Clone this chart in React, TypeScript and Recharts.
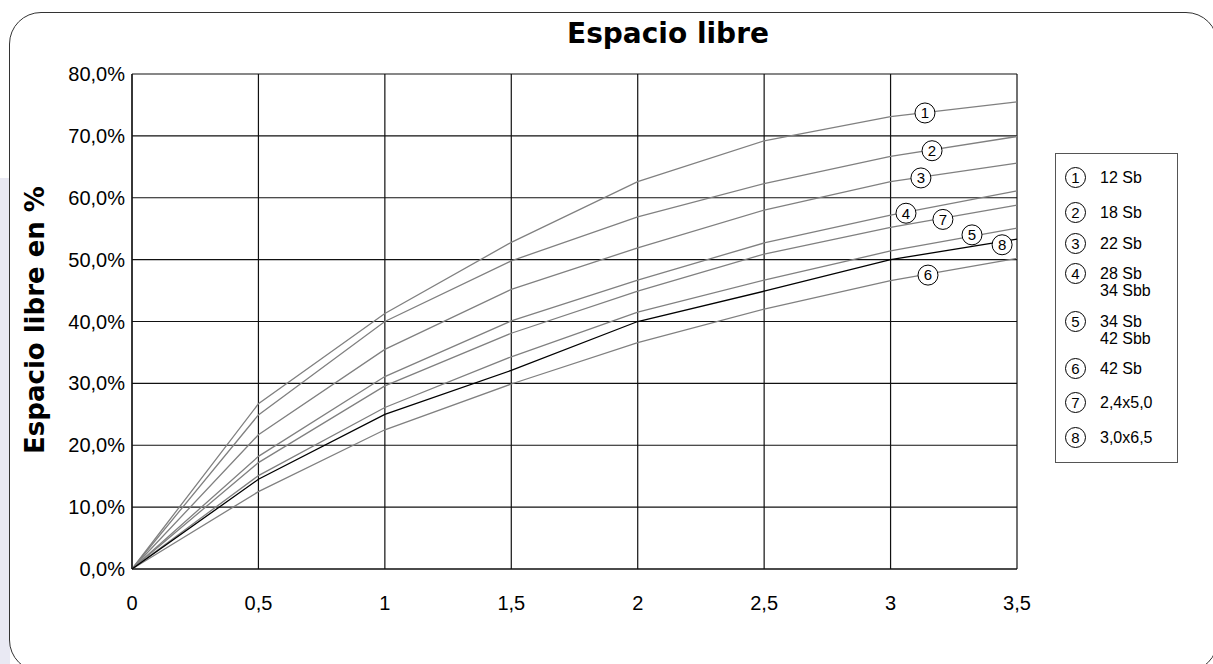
import { CartesianGrid, Line, LineChart, ReferenceDot, XAxis, YAxis } from "recharts";

const xValues = [0, 0.5, 1, 1.5, 2, 2.5, 3, 3.5];
const xTicks = [0, 0.5, 1, 1.5, 2, 2.5, 3, 3.5];
const yTicks = [0, 10, 20, 30, 40, 50, 60, 70, 80];

const s1 = [0, 26.7, 41.3, 52.8, 62.6, 69.2, 73.1, 75.5];
const s2 = [0, 24.9, 40.0, 49.8, 56.9, 62.3, 66.7, 69.9];
const s3 = [0, 21.7, 35.5, 45.2, 51.9, 58.0, 62.6, 65.6];
const s4 = [0, 18.2, 31.1, 40.1, 46.7, 52.7, 57.2, 61.1];
const s5 = [0, 15.1, 26.1, 34.3, 41.5, 46.7, 51.4, 55.1];
const s6 = [0, 12.5, 22.5, 29.9, 36.6, 42.0, 46.6, 50.2];
const s7 = [0, 17.2, 29.6, 38.1, 44.9, 50.9, 55.2, 58.8];
const s8 = [0, 14.5, 25.0, 32.1, 40.0, 44.9, 50.0, 53.3];

const seriesKeys = ["s1", "s2", "s3", "s4", "s5", "s6", "s7", "s8"];
const seriesNums = ["1", "2", "3", "4", "5", "6", "7", "8"];
const legendLabels = [
  ["12 Sb"],
  ["18 Sb"],
  ["22 Sb"],
  ["28 Sb", "34 Sbb"],
  ["34 Sb", "42 Sbb"],
  ["42 Sb"],
  ["2,4x5,0"],
  ["3,0x6,5"],
];

// where the circled numbers sit on each curve (data units)
const markerX = [3.136, 3.164, 3.12, 3.061, 3.322, 3.148, 3.207, 3.441];
const markerY = [73.7, 67.6, 63.2, 57.5, 54.0, 47.5, 56.5, 52.4];

const allSeries = [s1, s2, s3, s4, s5, s6, s7, s8];
const data = xValues.map((x, i) => {
  const row: Record<string, number> = { x };
  seriesKeys.forEach((k, j) => (row[k] = allSeries[j][i]));
  return row;
});

const sans = "'Liberation Sans', Arial, sans-serif";
const tickFont = { fontFamily: sans, fontSize: 20, fill: "#000" };
const headFont = "'DejaVu Sans', Lato, sans-serif";

function Circled({ cx, cy, n }: { cx: number; cy: number; n: string }) {
  return (
    <g>
      <circle cx={cx} cy={cy} r={10} fill="#fff" stroke="#000" strokeWidth={1} />
      <text x={cx} y={cy} dy="0.36em" textAnchor="middle" fontFamily={sans} fontSize={15} fill="#000">
        {n}
      </text>
    </g>
  );
}

function LegendBox() {
  const rowTops = [13, 48, 79, 109, 157, 204, 238, 273];
  return (
    <div
      style={{
        position: "absolute",
        left: 1055,
        top: 153,
        width: 121,
        height: 308,
        border: "1px solid #555",
        background: "#fff",
        fontFamily: sans,
        fontSize: 16,
        color: "#000",
      }}
    >
      {legendLabels.map((lines, i) => (
        <div key={i} style={{ position: "absolute", left: 9, top: rowTops[i], display: "flex" }}>
          <div
            style={{
              width: 19,
              height: 19,
              border: "1px solid #000",
              borderRadius: "50%",
              fontSize: 15,
              lineHeight: "19px",
              textAlign: "center",
            }}
          >
            {seriesNums[i]}
          </div>
          <div style={{ marginLeft: 14, lineHeight: "17px", marginTop: 2 }}>
            {lines.map((l) => (
              <div key={l}>{l}</div>
            ))}
          </div>
        </div>
      ))}
    </div>
  );
}

export default function App() {
  return (
    <div style={{ position: "fixed", left: 0, top: 0, width: 1213, height: 664, overflow: "hidden", background: "#fff" }}>
      <div style={{ position: "absolute", left: 0, top: 178, width: 10, height: 486, background: "#e9e9f3" }} />
      <div
        style={{
          position: "absolute",
          left: 9,
          top: 12,
          width: 1209,
          height: 660,
          border: "1.5px solid #333",
          borderRadius: 32,
          boxSizing: "border-box",
          background: "#fff",
        }}
      />
      <div
        style={{
          position: "absolute",
          left: 468,
          top: 17,
          width: 400,
          textAlign: "center",
          fontFamily: headFont,
          fontWeight: 700,
          fontSize: 28,
          color: "#000",
        }}
      >
        Espacio libre
      </div>
      <div
        style={{
          position: "absolute",
          left: 35 - 200,
          top: 320 - 20,
          width: 400,
          height: 40,
          lineHeight: "40px",
          textAlign: "center",
          transform: "rotate(-90deg)",
          fontFamily: headFont,
          fontWeight: 700,
          fontSize: 26,
          color: "#000",
        }}
      >
        Espacio libre en %
      </div>
      <div style={{ position: "absolute", left: 8, top: 8 }}>
        <LineChart width={1197} height={648} data={data} margin={{ top: 66, right: 188, left: 0, bottom: 27 }}>
          <CartesianGrid stroke="#111" strokeWidth={1.2} />
          <XAxis
            dataKey="x"
            type="number"
            domain={[0, 3.5]}
            ticks={xTicks}
            interval={0}
            height={60}
            tickSize={0}
            tickMargin={27}
            axisLine={{ stroke: "#111", strokeWidth: 1.2 }}
            tick={tickFont}
            tickFormatter={(v: number) => String(v).replace(".", ",")}
          />
          <YAxis
            type="number"
            domain={[0, 80]}
            ticks={yTicks}
            interval={0}
            width={124}
            tickSize={0}
            tickMargin={7}
            axisLine={{ stroke: "#111", strokeWidth: 1.2 }}
            tick={tickFont}
            tickFormatter={(v: number) => v.toFixed(1).replace(".", ",") + "%"}
          />
          {seriesKeys.map((k) => (
            <Line
              key={k}
              type="linear"
              dataKey={k}
              stroke={k === "s8" ? "#000" : "#808080"}
              strokeWidth={1.3}
              dot={false}
              isAnimationActive={false}
            />
          ))}
          {seriesKeys.map((k, i) => (
            <ReferenceDot
              key={`m-${k}`}
              x={markerX[i]}
              y={markerY[i]}
              r={10}
              shape={(p: any) => <Circled cx={p.cx} cy={p.cy} n={seriesNums[i]} />}
            />
          ))}
        </LineChart>
      </div>
      <LegendBox />
    </div>
  );
}
